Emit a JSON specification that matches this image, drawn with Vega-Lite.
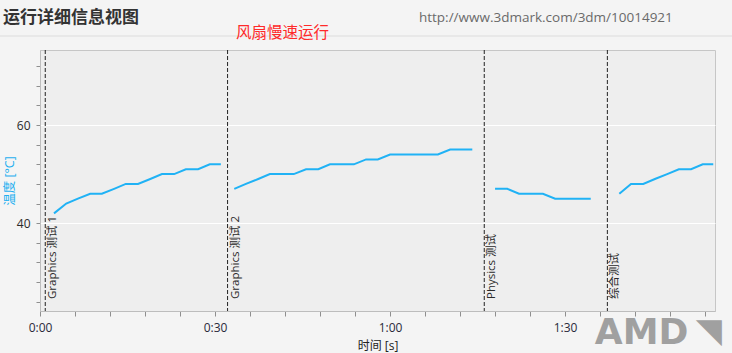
{
  "$schema": "https://vega.github.io/schema/vega-lite/v6.json",
  "width": 675,
  "height": 261,
  "autosize": {"type": "none"},
  "padding": {"left": 40, "top": 50, "right": 17, "bottom": 42},
  "background": "#f4f4f4",
  "config": {
    "view": {"fill": "#eeeeee", "stroke": "#c6c6c6", "strokeWidth": 1},
    "font": "Open Sans, Noto Sans CJK SC"
  },
  "datasets": {
    "temps": [
      {"test": "Graphics 测试 1", "t": 2.4, "temp": 42},
      {"test": "Graphics 测试 1", "t": 4.5, "temp": 44},
      {"test": "Graphics 测试 1", "t": 6.5, "temp": 45},
      {"test": "Graphics 测试 1", "t": 8.6, "temp": 46},
      {"test": "Graphics 测试 1", "t": 10.6, "temp": 46},
      {"test": "Graphics 测试 1", "t": 12.7, "temp": 47},
      {"test": "Graphics 测试 1", "t": 14.7, "temp": 48},
      {"test": "Graphics 测试 1", "t": 16.8, "temp": 48},
      {"test": "Graphics 测试 1", "t": 18.9, "temp": 49},
      {"test": "Graphics 测试 1", "t": 20.9, "temp": 50},
      {"test": "Graphics 测试 1", "t": 23.0, "temp": 50},
      {"test": "Graphics 测试 1", "t": 25.0, "temp": 51},
      {"test": "Graphics 测试 1", "t": 27.1, "temp": 51},
      {"test": "Graphics 测试 1", "t": 29.1, "temp": 52},
      {"test": "Graphics 测试 1", "t": 31.0, "temp": 52},
      {"test": "Graphics 测试 2", "t": 33.3, "temp": 47},
      {"test": "Graphics 测试 2", "t": 35.3, "temp": 48},
      {"test": "Graphics 测试 2", "t": 37.4, "temp": 49},
      {"test": "Graphics 测试 2", "t": 39.4, "temp": 50},
      {"test": "Graphics 测试 2", "t": 41.5, "temp": 50},
      {"test": "Graphics 测试 2", "t": 43.5, "temp": 50},
      {"test": "Graphics 测试 2", "t": 45.6, "temp": 51},
      {"test": "Graphics 测试 2", "t": 47.7, "temp": 51},
      {"test": "Graphics 测试 2", "t": 49.7, "temp": 52},
      {"test": "Graphics 测试 2", "t": 51.8, "temp": 52},
      {"test": "Graphics 测试 2", "t": 53.8, "temp": 52},
      {"test": "Graphics 测试 2", "t": 55.9, "temp": 53},
      {"test": "Graphics 测试 2", "t": 57.9, "temp": 53},
      {"test": "Graphics 测试 2", "t": 60.0, "temp": 54},
      {"test": "Graphics 测试 2", "t": 62.1, "temp": 54},
      {"test": "Graphics 测试 2", "t": 64.1, "temp": 54},
      {"test": "Graphics 测试 2", "t": 66.2, "temp": 54},
      {"test": "Graphics 测试 2", "t": 68.2, "temp": 54},
      {"test": "Graphics 测试 2", "t": 70.3, "temp": 55},
      {"test": "Graphics 测试 2", "t": 72.3, "temp": 55},
      {"test": "Graphics 测试 2", "t": 74.1, "temp": 55},
      {"test": "Physics 测试", "t": 78.0, "temp": 47},
      {"test": "Physics 测试", "t": 80.1, "temp": 47},
      {"test": "Physics 测试", "t": 82.1, "temp": 46},
      {"test": "Physics 测试", "t": 84.2, "temp": 46},
      {"test": "Physics 测试", "t": 86.2, "temp": 46},
      {"test": "Physics 测试", "t": 88.3, "temp": 45},
      {"test": "Physics 测试", "t": 90.3, "temp": 45},
      {"test": "Physics 测试", "t": 92.4, "temp": 45},
      {"test": "Physics 测试", "t": 94.4, "temp": 45},
      {"test": "综合测试", "t": 99.3, "temp": 46},
      {"test": "综合测试", "t": 101.3, "temp": 48},
      {"test": "综合测试", "t": 103.4, "temp": 48},
      {"test": "综合测试", "t": 105.4, "temp": 49},
      {"test": "综合测试", "t": 107.5, "temp": 50},
      {"test": "综合测试", "t": 109.5, "temp": 51},
      {"test": "综合测试", "t": 111.6, "temp": 51},
      {"test": "综合测试", "t": 113.6, "temp": 52},
      {"test": "综合测试", "t": 115.4, "temp": 52}
    ],
    "markers": [
      {"t": 0.9, "name": "Graphics 测试 1"},
      {"t": 32.15, "name": "Graphics 测试 2"},
      {"t": 76.15, "name": "Physics 测试"},
      {"t": 97.25, "name": "综合测试"}
    ],
    "notes": [
      {"t": -6.35, "temp": 81.8, "label": "运行详细信息视图", "kind": "header"},
      {"t": 33.6, "temp": 78.9, "label": "风扇慢速运行", "kind": "fan"},
      {"t": 64.95, "temp": 81.8, "label": "http://www.3dmark.com/3dm/10014921", "kind": "url"},
      {"t": 95.1, "temp": 17.6, "label": "AMD", "kind": "logo"},
      {"t": 112.4, "temp": 17.9, "label": "◥", "kind": "logomark"}
    ],
    "frame": [
      {"t0": -6.9, "t1": 118.7, "temp": 78.15}
    ]
  },
  "layer": [
    {
      "data": {"name": "frame"},
      "mark": {"type": "rule", "color": "#dcdcdc", "strokeWidth": 1},
      "encoding": {
        "x": {"field": "t0", "type": "quantitative", "title": "时间 [s]"},
        "x2": {"field": "t1"},
        "y": {"field": "temp", "type": "quantitative", "title": "温度 [°C]"}
      }
    },
    {
      "data": {"name": "temps"},
      "mark": {"type": "line", "color": "#20b2f5", "strokeWidth": 2, "interpolate": "linear"},
      "encoding": {
        "x": {
          "field": "t", "type": "quantitative",
          "scale": {"domain": [0, 115.7], "nice": false, "zero": false},
          "axis": {
            "title": "时间 [s]",
            "values": [0, 6, 12, 18, 24, 30, 36, 42, 48, 54, 60, 66, 72, 78, 84, 90, 96, 102, 108, 114],
            "tickCount": 100,
            "labelExpr": "datum.value % 30 === 0 ? floor(datum.value / 60) + ':' + (datum.value % 60 === 0 ? '00' : '30') : ''",
            "labelFlush": false,
            "labelOverlap": false,
            "grid": false,
            "domainColor": "#bdbdbd",
            "tickColor": "#8f8f8f",
            "tickSize": 5,
            "labelFontSize": 12,
            "labelColor": "#2a2a3a",
            "labelPadding": 6,
            "titleFontSize": 12,
            "titleFontWeight": "normal",
            "titleColor": "#222222",
            "titlePadding": 7
          }
        },
        "y": {
          "field": "temp", "type": "quantitative",
          "scale": {"domain": [22.1, 75.3], "nice": false, "zero": false},
          "axis": {
            "title": "温度 [°C]",
            "values": [24, 28, 32, 36, 40, 44, 48, 52, 56, 60, 64, 68, 72],
            "tickCount": 100,
            "labelExpr": "datum.value % 20 === 0 ? '' + datum.value : ''",
            "labelOverlap": false,
            "grid": true,
            "gridColor": "#ffffff",
            "gridWidth": 1.2,
            "gridOpacity": {"condition": {"test": "datum.value % 20 === 0", "value": 1}, "value": 0},
            "domainColor": "#bdbdbd",
            "tickColor": "#8f8f8f",
            "tickSize": 4,
            "labelFontSize": 12,
            "labelColor": "#2a2a2a",
            "labelPadding": 6,
            "titleFontSize": 12.5,
            "titleFontWeight": "normal",
            "titleColor": "#1fb0f0",
            "titlePadding": 0
          }
        },
        "detail": {"field": "test"}
      }
    },
    {
      "data": {"name": "markers"},
      "mark": {"type": "rule", "color": "#222222", "strokeDash": [4, 2], "strokeWidth": 1},
      "encoding": {
        "x": {"field": "t", "type": "quantitative", "title": "时间 [s]"}
      }
    },
    {
      "data": {"name": "markers"},
      "mark": {"type": "text", "angle": 270, "align": "left", "baseline": "middle", "dx": 12, "dy": 8, "fontSize": 11.5, "color": "#2a2a2a"},
      "encoding": {
        "x": {"field": "t", "type": "quantitative", "title": "时间 [s]"},
        "y": {"datum": 22.1},
        "text": {"field": "name"}
      }
    },
    {
      "data": {"name": "notes"},
      "transform": [{"filter": "datum.kind === 'header'"}],
      "mark": {"type": "text", "align": "left", "baseline": "middle", "fontSize": 17, "fontWeight": "bold", "color": "#333333", "font": "Noto Sans CJK SC"},
      "encoding": {
        "x": {"field": "t", "type": "quantitative", "title": "时间 [s]"},
        "y": {"field": "temp", "type": "quantitative", "title": "温度 [°C]"},
        "text": {"field": "label"}
      }
    },
    {
      "data": {"name": "notes"},
      "transform": [{"filter": "datum.kind === 'fan'"}],
      "mark": {"type": "text", "align": "left", "baseline": "middle", "dy": 1, "fontSize": 15.5, "color": "#ff2a2a", "font": "Noto Sans CJK SC"},
      "encoding": {
        "x": {"field": "t", "type": "quantitative", "title": "时间 [s]"},
        "y": {"field": "temp", "type": "quantitative", "title": "温度 [°C]"},
        "text": {"field": "label"}
      }
    },
    {
      "data": {"name": "notes"},
      "transform": [{"filter": "datum.kind === 'url'"}],
      "mark": {"type": "text", "align": "left", "baseline": "middle", "fontSize": 13.5, "color": "#6a6a6a", "font": "Open Sans"},
      "encoding": {
        "x": {"field": "t", "type": "quantitative", "title": "时间 [s]"},
        "y": {"field": "temp", "type": "quantitative", "title": "温度 [°C]"},
        "text": {"field": "label"}
      }
    },
    {
      "data": {"name": "notes"},
      "transform": [{"filter": "datum.kind === 'logo'"}],
      "mark": {"type": "text", "align": "left", "baseline": "middle", "fontSize": 36, "fontWeight": "bold", "color": "#a0a0a0", "font": "DejaVu Sans"},
      "encoding": {
        "x": {"field": "t", "type": "quantitative", "title": "时间 [s]"},
        "y": {"field": "temp", "type": "quantitative", "title": "温度 [°C]"},
        "text": {"field": "label"}
      }
    },
    {
      "data": {"name": "notes"},
      "transform": [{"filter": "datum.kind === 'logomark'"}],
      "mark": {"type": "text", "align": "left", "baseline": "middle", "fontSize": 34, "color": "#a0a0a0", "font": "DejaVu Sans"},
      "encoding": {
        "x": {"field": "t", "type": "quantitative", "title": "时间 [s]"},
        "y": {"field": "temp", "type": "quantitative", "title": "温度 [°C]"},
        "text": {"field": "label"}
      }
    }
  ]
}
